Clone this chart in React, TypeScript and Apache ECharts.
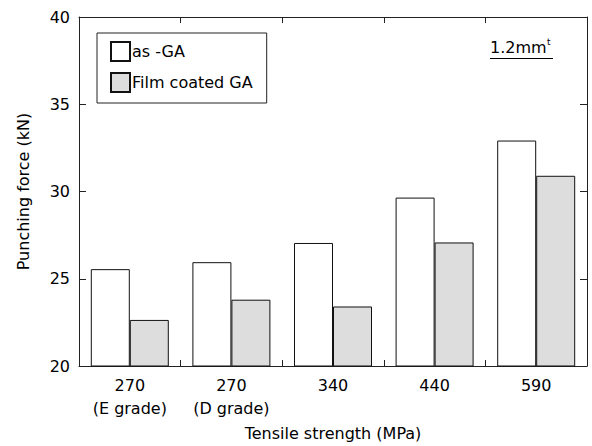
import React, { useEffect, useRef } from "react";
import * as echarts from "echarts";

const categories = ["270\n(E grade)", "270\n(D grade)", "340", "440", "590"];
const asGA = [25.55, 25.95, 27.05, 29.65, 32.92];
const filmGA = [22.64, 23.8, 23.41, 27.08, 30.9];
const yTicks = { min: 20, max: 40, interval: 5 };

const FONT = "DejaVu Sans";

export default function App() {
  const ref = useRef<HTMLDivElement>(null);
  useEffect(() => {
    const chart = echarts.init(ref.current!, null, { renderer: "svg" });
    const axisLine = { show: true, lineStyle: { color: "#222", width: 1 } };
    chart.setOption({
      animation: false,
      backgroundColor: "#fff",
      textStyle: { fontFamily: FONT, color: "#000" },
      grid: { left: 79, right: 5, top: 17, bottom: 73 },
      legend: {
        orient: "vertical",
        left: 97,
        top: 33,
        padding: [8, 14, 10, 13],
        borderColor: "#222",
        borderWidth: 1,
        itemWidth: 19,
        itemHeight: 19,
        itemGap: 10,
        icon: "rect",
        textStyle: { fontFamily: FONT, fontSize: 16, color: "#000", padding: [0, 0, 0, -3] },
        data: ["as -GA", "Film coated GA"],
      },
      xAxis: [
        {
          type: "category",
          data: categories,
          position: "bottom",
          axisLine,
          axisTick: { show: true, inside: true, length: 6, interval: 0, lineStyle: { color: "#222" } },
          axisLabel: { fontFamily: FONT, fontSize: 16, color: "#000", margin: 8, lineHeight: 23, interval: 0 },
          name: "Tensile strength (MPa)",
          nameLocation: "middle",
          nameGap: 59,
          nameTextStyle: { fontFamily: FONT, fontSize: 16, color: "#000" },
        },
        {
          type: "category",
          data: categories,
          position: "top",
          axisLine,
          axisTick: { show: true, inside: true, length: 6, interval: 0, lineStyle: { color: "#222" } },
          axisLabel: { show: false },
        },
      ],
      yAxis: [
        {
          type: "value",
          min: yTicks.min,
          max: yTicks.max,
          interval: yTicks.interval,
          position: "left",
          axisLine,
          splitLine: { show: false },
          axisTick: { show: true, inside: true, length: 7, lineStyle: { color: "#222" } },
          axisLabel: { fontFamily: FONT, fontSize: 16, color: "#000", margin: 9 },
          name: "Punching force (kN)",
          nameLocation: "middle",
          nameGap: 48,
          nameTextStyle: { fontFamily: FONT, fontSize: 16, color: "#000" },
        },
        {
          type: "value",
          min: yTicks.min,
          max: yTicks.max,
          interval: yTicks.interval,
          position: "right",
          axisLine,
          splitLine: { show: false },
          axisTick: { show: true, inside: true, length: 7, lineStyle: { color: "#222" } },
          axisLabel: { show: false },
        },
      ],
      series: [
        {
          name: "as -GA",
          type: "bar",
          data: asGA,
          barWidth: 39,
          barGap: "0%",
          itemStyle: { color: "#ffffff", borderColor: "#111", borderWidth: 1 },
        },
        {
          name: "Film coated GA",
          type: "bar",
          data: filmGA,
          barWidth: 39,
          barGap: "0%",
          itemStyle: { color: "#dddddd", borderColor: "#111", borderWidth: 1 },
        },
      ],
      graphic: [
        {
          type: "text",
          left: 490,
          top: 39,
          style: { text: "1.2mm", font: `16px "${FONT}"`, fill: "#000" },
        },
        {
          type: "text",
          left: 547,
          top: 37,
          style: { text: "t", font: `9px "${FONT}"`, fill: "#000" },
        },
        {
          type: "line",
          shape: { x1: 490, y1: 58.5, x2: 553, y2: 58.5 },
          style: { stroke: "#000", lineWidth: 1 },
        },
      ],
    });
    return () => chart.dispose();
  }, []);
  return (
    <div
      ref={ref}
      style={{ position: "fixed", left: 0, top: 0, width: 592, height: 446 }}
    />
  );
}
